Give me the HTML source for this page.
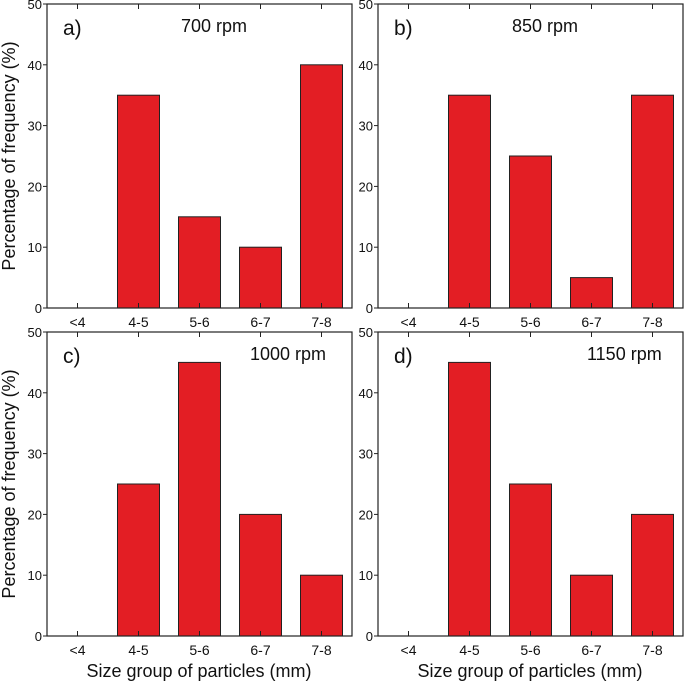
<!DOCTYPE html>
<html><head><meta charset="utf-8"><style>
body{margin:0;background:#fff;}
svg text{font-family:"Liberation Sans",Arial,sans-serif;fill:#111;}
</style></head><body>
<svg id="c" width="685" height="685" xmlns="http://www.w3.org/2000/svg"></svg>
<script>
const categories = ["<4","4-5","5-6","6-7","7-8"];
const yTicks = [0,10,20,30,40,50];
const valuesA = [0,35,15,10,40];
const valuesB = [0,35,25,5,35];
const valuesC = [0,25,45,20,10];
const valuesD = [0,45,25,10,20];
const panelLetters = ["a)","b)","c)","d)"];
const panelTitles = ["700 rpm","850 rpm","1000 rpm","1150 rpm"];
const seriesList = [valuesA, valuesB, valuesC, valuesD];
const NS = "http://www.w3.org/2000/svg";
const svg = document.getElementById('c');
function mk(tag, attrs, parent){const e=document.createElementNS(NS,tag);for(const k in attrs)e.setAttribute(k,attrs[k]);(parent||svg).appendChild(e);return e;}
const layout = [{x:47,y:4,tx:181},{x:378,y:4,tx:512},{x:47,y:332,tx:250},{x:378,y:332,tx:587}];
const W=305,H=304,yMax=50;
seriesList.forEach((vals,p)=>{
  const L=layout[p];
  const g=mk('g',{});
  
  
  const xS=i=>L.x+(i+0.5)*W/categories.length;
  const yS=v=>L.y+H-v/yMax*H;
  const bw=42;
  vals.forEach((v,i)=>{
    if(v<=0) return;
    const r=mk('rect',{x:xS(i)-bw/2,y:yS(v),width:bw,height:yS(0)-yS(v),fill:'#e31e24',stroke:'#222','stroke-width':1},g);
    
    
  });
  const f=mk('rect',{x:L.x,y:L.y,width:W,height:H,fill:'none',stroke:'#222','stroke-width':1.2},g);
  
  
  categories.forEach((c,i)=>{
    mk('line',{x1:xS(i),x2:xS(i),y1:L.y+H,y2:L.y+H-5,stroke:'#222'},g);
    mk('line',{x1:xS(i),x2:xS(i),y1:L.y,y2:L.y+5,stroke:'#222'},g);
    const t=mk('text',{x:xS(i),y:L.y+H+19,'text-anchor':'middle','font-size':14},g);
    t.textContent=c;
    
    
  });
  yTicks.forEach(v=>{
    mk('line',{x1:L.x-4,x2:L.x,y1:yS(v),y2:yS(v),stroke:'#222'},g);
    const t=mk('text',{x:L.x-5,y:yS(v)+5,'text-anchor':'end','font-size':13},g);
    t.textContent=v;
    
    
  });
  const lt=mk('text',{x:L.x+16,y:L.y+31,'font-size':21},g);
  lt.textContent=panelLetters[p];
  
  
  const tt=mk('text',{x:L.tx,y:L.y+28,'font-size':18},g);
  tt.textContent=panelTitles[p];
  
  
});
[[15,156],[15,484]].forEach(([x,y])=>{
  const t=mk('text',{x:x,y:y,'text-anchor':'middle','font-size':18,transform:`rotate(-90 ${x} ${y})`});
  t.textContent='Percentage of frequency (%)';
  
  
});
[199,530].forEach(x=>{
  const t=mk('text',{x:x,y:677,'text-anchor':'middle','font-size':18});
  t.textContent='Size group of particles (mm)';
  
  
});
</script>
</body></html>
